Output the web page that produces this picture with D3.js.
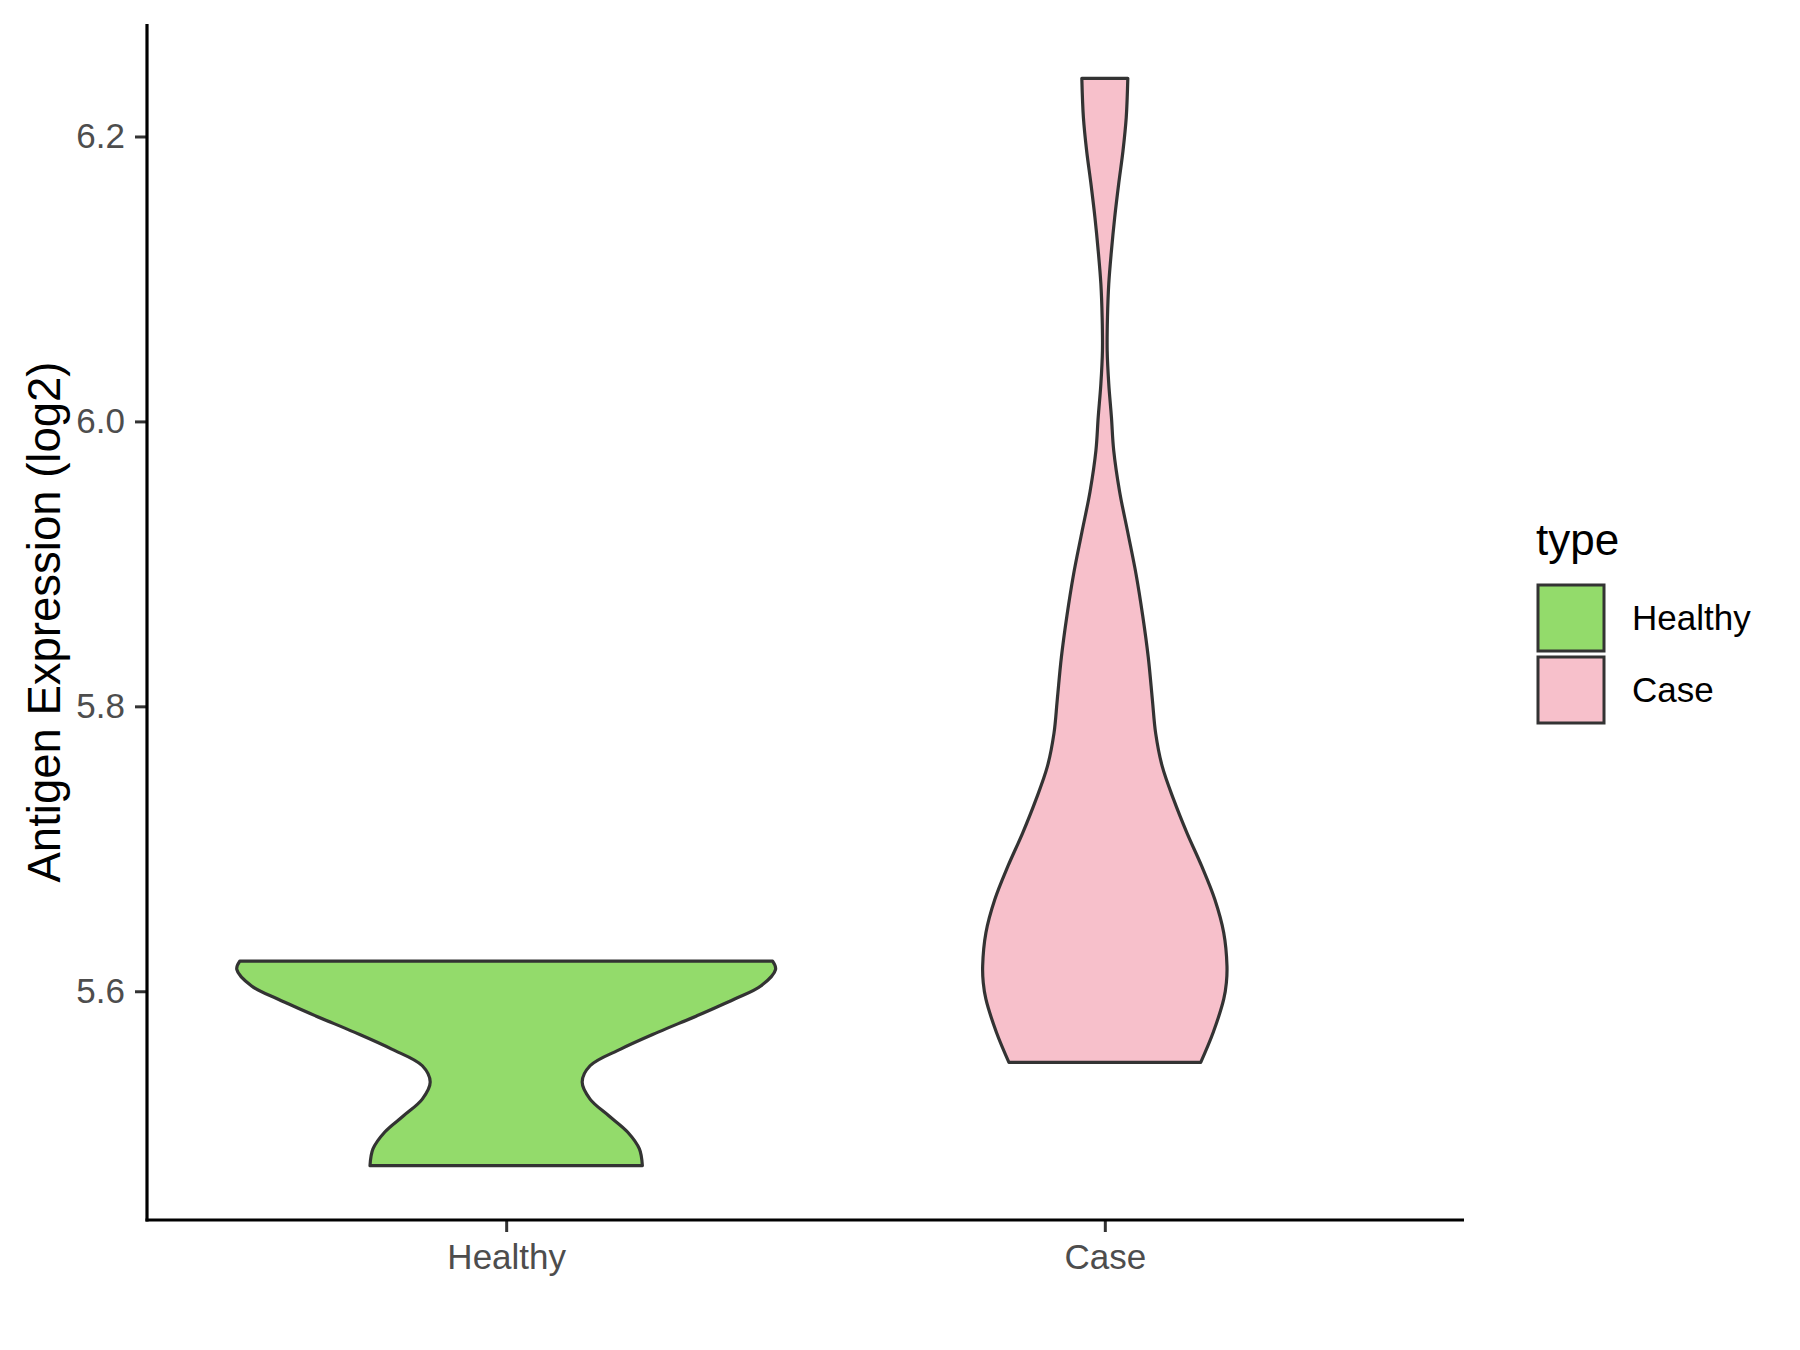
<!DOCTYPE html>
<html>
<head>
<meta charset="utf-8">
<script src="https://cdn.jsdelivr.net/npm/d3@7"></script>
<style>
  html, body { margin: 0; padding: 0; background: #fff; }
  svg { display: block; font-family: "Liberation Sans", Arial, sans-serif; }
</style>
</head>
<body>
<svg id="chart" width="1800" height="1350"></svg>
<script>
// ---- data ----
const categories = ["Healthy", "Case"];
const fillColors = ["#93DB6B", "#F7C0CB"];
const yTicks = [5.6, 5.8, 6.0, 6.2];
const yTitle = "Antigen Expression (log2)";
const legendTitle = "type";

// violin density profiles: expression value and relative density
const healthyValues  = [5.6212, 5.6154, 5.6037, 5.5944, 5.5827, 5.5713, 5.5594, 5.5477, 5.5363, 5.5243, 5.5126, 5.5012, 5.4893, 5.4776];
const healthyDensity = [2.70,   2.73,   2.58,   2.31,   1.93,   1.54,   1.16,   0.85,   0.77,   0.85,   1.04,   1.23,   1.35,   1.38];

const caseValues  = [6.2408, 6.2132, 6.1898, 6.1665, 6.1431, 6.1198, 6.0965, 6.0731, 6.0497, 6.0264, 6.0030, 5.9797, 5.9507, 5.9217, 5.8926, 5.8636, 5.8346, 5.8046, 5.7812, 5.7578, 5.7345, 5.7112, 5.6878, 5.6644, 5.6411, 5.6177, 5.6061, 5.5944, 5.5711, 5.5501];
const caseDensity = [0.233,  0.217,  0.184,  0.140,  0.100,  0.067,  0.040,  0.027,  0.024,  0.040,  0.067,  0.090,  0.150,  0.234,  0.317,  0.384,  0.440,  0.482,  0.515,  0.582,  0.698,  0.832,  0.982,  1.115,  1.205,  1.238,  1.232,  1.205,  1.098,  0.972];

const groups = [
  { name: categories[0], values: healthyValues, density: healthyDensity, fill: fillColors[0] },
  { name: categories[1], values: caseValues,    density: caseDensity,    fill: fillColors[1] }
];

// ---- layout ----
const panel = { left: 147, right: 1464, top: 24, bottom: 1220 };
const svg = d3.select("#chart");

const allVals = healthyValues.concat(caseValues);
const vMin = d3.min(allVals), vMax = d3.max(allVals);
const pad = (vMax - vMin) * 0.05;
const y = d3.scaleLinear().domain([vMin - pad, vMax + pad]).range([panel.bottom, panel.top]);
const x = d3.scalePoint().domain(categories).range([panel.left, panel.right]).padding(0.6);

const maxDens = d3.max(healthyDensity.concat(caseDensity));
const w = d3.scaleLinear().domain([0, maxDens]).range([0, 0.45 * x.step()]);

// ---- violins ----
groups.forEach(g => {
  const pts = g.values.map((v, i) => ({ v, d: g.density[i] }));
  const cx = x(g.name);
  const area = d3.area()
    .y(d => y(d.v))
    .x0(d => cx - w(d.d))
    .x1(d => cx + w(d.d))
    .curve(d3.curveCatmullRom.alpha(0.5));
  svg.append("path")
    .attr("d", area(pts))
    .attr("fill", g.fill)
    .attr("stroke", "#333333")
    .attr("stroke-width", 3.2)
    .attr("stroke-linejoin", "round");
});

// ---- axes ----
const yAxis = d3.axisLeft(y).tickValues(yTicks).tickFormat(d3.format(".1f")).tickSizeInner(12).tickSizeOuter(0).tickPadding(10);
const gy = svg.append("g").attr("transform", `translate(${panel.left},0)`).call(yAxis);
gy.select(".domain").remove();
gy.selectAll(".tick line").attr("stroke", "#333333").attr("stroke-width", 3);
gy.selectAll(".tick text").attr("fill", "#4D4D4D").style("font-size", "35px");

const xAxis = d3.axisBottom(x).tickSizeInner(12).tickSizeOuter(0).tickPadding(10);
const gx = svg.append("g").attr("transform", `translate(0,${panel.bottom})`).call(xAxis);
gx.select(".domain").remove();
gx.selectAll(".tick line").attr("stroke", "#333333").attr("stroke-width", 3);
gx.selectAll(".tick text").attr("fill", "#4D4D4D").style("font-size", "35px").attr("dy", "0.78em");

// axis lines
svg.append("line").attr("x1", panel.left).attr("x2", panel.left).attr("y1", panel.top).attr("y2", panel.bottom + 1.5)
  .attr("stroke", "#000").attr("stroke-width", 3.2);
svg.append("line").attr("x1", panel.left - 1.5).attr("x2", panel.right).attr("y1", panel.bottom).attr("y2", panel.bottom)
  .attr("stroke", "#000").attr("stroke-width", 3.2);

// y title
svg.append("text")
  .attr("transform", `translate(60,${(panel.top + panel.bottom) / 2}) rotate(-90)`)
  .attr("text-anchor", "middle")
  .attr("fill", "#000")
  .style("font-size", "45.5px")
  .text(yTitle);

// ---- legend ----
const lg = svg.append("g");
lg.append("text").attr("x", 1536).attr("y", 555).style("font-size", "44px").attr("fill", "#000").text(legendTitle);
groups.forEach((g, i) => {
  const ky = 585 + i * 72;
  lg.append("rect").attr("x", 1538).attr("y", ky).attr("width", 66).attr("height", 66)
    .attr("fill", g.fill).attr("stroke", "#333333").attr("stroke-width", 3);
  lg.append("text").attr("x", 1632).attr("y", ky + 33).attr("dy", "0.35em")
    .style("font-size", "35px").attr("fill", "#000").text(g.name);
});
</script>
</body>
</html>
